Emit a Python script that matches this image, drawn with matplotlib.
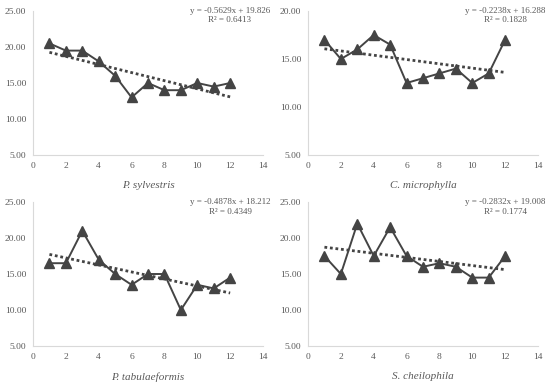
import matplotlib.pyplot as plt
import numpy as np

plt.rcParams['font.family'] = ['Liberation Serif', 'DejaVu Serif']

# months
x = np.arange(1, 13)

# series values
sylvestris = [20.5, 19.5, 19.5, 18, 16, 13, 15, 14, 14, 15, 14.5, 15]
microphylla = [17, 15, 16, 17.5, 16.5, 12.5, 13, 13.5, 14, 12.5, 13.5, 17]
tabulaeformis = [16.5, 16.5, 21, 17, 15, 13.5, 15, 15, 10, 13.5, 13, 14.5]
cheilophila = [17.5, 15, 22, 17.5, 21.5, 17.5, 16, 16.5, 16, 14.5, 14.5, 17.5]

names = ['P. sylvestris', 'C. microphylla', 'P. tabulaeformis', 'S. cheilophila']
equations = ['y = -0.5629x + 19.826\nR² = 0.6413',
             'y = -0.2238x + 16.288\nR² = 0.1828',
             'y = -0.4878x + 18.212\nR² = 0.4349',
             'y = -0.2832x + 19.008\nR² = 0.1774']
ytop = [25, 20, 25, 25]
series = [sylvestris, microphylla, tabulaeformis, cheilophila]

W, H = 550, 382
fig = plt.figure(figsize=(W / 100, H / 100), dpi=100)

# panel origins (left, top) in pixels
origins = [(0, 0), (275, 0), (0, 191), (275, 191)]
grey = '#595959'
dark = '#444444'

for (ox, oy), name, eq, top, y in zip(origins, names, equations, ytop, series):
    left = ox + 33
    right = ox + 263
    ytp = oy + 11
    ybt = oy + 155
    ax = fig.add_axes([left / W, 1 - ybt / H, (right - left) / W, (ybt - ytp) / H])
    ax.plot(x, y, color=dark, lw=1.4, marker='^', ms=7.5, mfc=dark, mec=dark)
    slope, icpt = np.polyfit(x, y, 1)
    ax.plot([1, 12], [slope * 1 + icpt, slope * 12 + icpt], color=dark, lw=2,
            linestyle=(0, (1, 1)))
    ax.set_xlim(0, 14)
    ax.set_ylim(5, top)
    ax.set_xticks(range(0, 15, 2))
    ax.set_yticks(np.arange(5, top + 0.1, 5))
    ax.set_yticklabels(['%.2f' % v for v in np.arange(5, top + 0.1, 5)])
    for s in ['top', 'right']:
        ax.spines[s].set_visible(False)
    for s in ['left', 'bottom']:
        ax.spines[s].set_color('#d9d9d9')
        ax.spines[s].set_linewidth(0.8)
    ax.tick_params(length=0, labelsize=6.8, colors=grey, pad=5)
    ax.set_xlabel(name, style='italic', fontsize=8, color=grey, labelpad=8)
    fig.text((ox + 230) / W, 1 - (oy + 7) / H, eq, ha='center', va='top',
             fontsize=6.5, color=grey, linespacing=1.25)

fig.savefig('out.png', dpi=100)
